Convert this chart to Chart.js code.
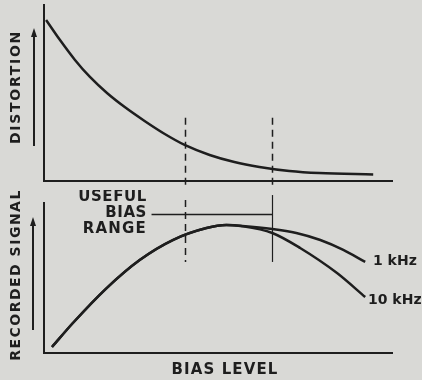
<!DOCTYPE html>
<html>
<head>
<meta charset="utf-8">
<script src="https://cdn.jsdelivr.net/npm/chart.js@4"></script>
<style>
  body { margin: 0; background: #d9d9d6; }
  #wrap { position: relative; width: 422px; height: 380px; }
  canvas { position: absolute; left: 0; }
</style>
</head>
<body>
<div id="wrap">
  <canvas id="distChart" width="422" height="190" style="top:0"></canvas>
  <canvas id="signalChart" width="422" height="190" style="top:190px"></canvas>
</div>
<script>
// bias level runs 0..10 on both panels, output values 0..10
const biasDist = [0.06, 0.46, 0.89, 1.32, 1.81, 2.32, 2.89, 3.47, 4.04, 4.76, 5.47, 6.19, 7.05, 7.91, 9.46];
const distortion = [9.15, 8.01, 6.88, 5.91, 5.0, 4.2, 3.41, 2.67, 2.05, 1.48, 1.08, 0.8, 0.57, 0.45, 0.37];

const bias1k = [0.23, 0.83, 1.8, 2.75, 3.7, 4.67, 5.24, 5.7, 6.56, 7.25, 7.94, 8.6, 9.23];
const signal1k = [0.4, 2.0, 4.33, 6.2, 7.53, 8.33, 8.53, 8.47, 8.27, 8.0, 7.53, 6.87, 6.07];

const bias10k = [0.23, 0.83, 1.8, 2.75, 3.7, 4.67, 5.24, 5.7, 6.56, 7.36, 8.42, 9.23];
const signal10k = [0.4, 2.0, 4.33, 6.2, 7.53, 8.33, 8.53, 8.45, 8.0, 7.0, 5.33, 3.73];

const usefulRange = [4.04, 6.56];

const ink = '#1e1e1e';
const font = 'DejaVu Sans, sans-serif';

const toPoints = (xs, ys) => xs.map((x, i) => ({ x: x, y: ys[i] }));

function axisScales() {
    return {
        x: {
            type: 'linear', min: 0, max: 10,
            ticks: { display: false },
            grid: { display: false, drawTicks: false },
            border: { color: ink, width: 2 },
            afterFit: s => { s.height = 0; }
        },
        y: {
            type: 'linear', min: 0, max: 10,
            ticks: { display: false },
            grid: { display: false, drawTicks: false },
            border: { color: ink, width: 2 },
            afterFit: s => { s.width = 0; }
        }
    };
}

function curve(points) {
    return {
        data: points,
        borderColor: ink,
        borderWidth: 2.5,
        pointRadius: 0,
        cubicInterpolationMode: 'monotone',
        fill: false
    };
}

function vText(ctx, str, x, y, size, spacing) {
    ctx.save();
    ctx.translate(x, y);
    ctx.rotate(-Math.PI / 2);
    ctx.font = 'bold ' + size + 'px ' + font;
    ctx.letterSpacing = spacing + 'px';
    ctx.fillStyle = ink;
    ctx.textAlign = 'center';
    ctx.textBaseline = 'middle';
    ctx.fillText(str, 0, 0);
    ctx.restore();
}

function text(ctx, str, x, y, size, align, spacing) {
    ctx.save();
    ctx.font = 'bold ' + size + 'px ' + font;
    ctx.letterSpacing = (spacing || 0) + 'px';
    ctx.fillStyle = ink;
    ctx.textAlign = align;
    ctx.textBaseline = 'middle';
    ctx.fillText(str, x, y);
    ctx.restore();
}

// vertical arrow pointing up
function upArrow(ctx, x, y1, y2) {
    ctx.save();
    ctx.strokeStyle = ink;
    ctx.fillStyle = ink;
    ctx.lineWidth = 2;
    ctx.beginPath();
    ctx.moveTo(x, y1);
    ctx.lineTo(x, y2 + 6);
    ctx.stroke();
    ctx.beginPath();
    ctx.moveTo(x, y2);
    ctx.lineTo(x - 3, y2 + 9);
    ctx.lineTo(x + 3, y2 + 9);
    ctx.closePath();
    ctx.fill();
    ctx.restore();
}

function line(ctx, x1, y1, x2, y2, width, dash) {
    ctx.save();
    ctx.strokeStyle = ink;
    ctx.lineWidth = width;
    ctx.setLineDash(dash || []);
    ctx.beginPath();
    ctx.moveTo(x1, y1);
    ctx.lineTo(x2, y2);
    ctx.stroke();
    ctx.restore();
}

const distNotes = {
    id: 'distNotes',
    afterDraw(chart) {
        const { ctx, scales: { x, y }, chartArea } = chart;
        usefulRange.forEach(v => {
            const px = Math.round(x.getPixelForValue(v)) + 0.5;
            line(ctx, px, y.getPixelForValue(3.6), px, chartArea.bottom + 8, 1.5, [7, 5]);
        });
        vText(ctx, 'DISTORTION', 16, 87, 14, 1.7);
        upArrow(ctx, 34, 146, 28);
    }
};

const signalNotes = {
    id: 'signalNotes',
    afterDraw(chart) {
        const { ctx, scales: { x, y }, chartArea } = chart;
        const lo = Math.round(x.getPixelForValue(usefulRange[0])) + 0.5;
        const hi = Math.round(x.getPixelForValue(usefulRange[1])) + 0.5;
        line(ctx, lo, y.getPixelForValue(10.2), lo, y.getPixelForValue(6.07), 1.5, [7, 5]);
        line(ctx, hi, y.getPixelForValue(10.53), hi, y.getPixelForValue(6.07), 1.2);
        const yr = Math.round(y.getPixelForValue(9.27)) + 0.5;
        line(ctx, x.getPixelForValue(3.09), yr, hi, yr, 1.5);

        text(ctx, 'USEFUL', 147, 7, 15, 'right', 0.6);
        text(ctx, 'BIAS', 147, 23, 15, 'right', 0.6);
        text(ctx, 'RANGE', 147, 39, 15, 'right', 1.2);

        vText(ctx, 'RECORDED SIGNAL', 16, 85, 14, 1.5);
        upArrow(ctx, 33, 140, 27);

        text(ctx, 'BIAS LEVEL', 225, 180, 15, 'center', 1.1);
        text(ctx, '1 kHz', 373, 71, 14, 'left', 0);
        text(ctx, '10 kHz', 368, 110, 14, 'left', 0);
    }
};

new Chart(document.getElementById('distChart'), {
    type: 'line',
    data: { datasets: [curve(toPoints(biasDist, distortion))] },
    options: {
        responsive: false,
        animation: false,
        layout: { padding: { left: 44, right: 30, top: 5, bottom: 9 } },
        plugins: { legend: { display: false }, tooltip: { enabled: false } },
        scales: axisScales()
    },
    plugins: [distNotes]
});

new Chart(document.getElementById('signalChart'), {
    type: 'line',
    data: {
        datasets: [
            curve(toPoints(bias1k, signal1k)),
            curve(toPoints(bias10k, signal10k))
        ]
    },
    options: {
        responsive: false,
        animation: false,
        layout: { padding: { left: 44, right: 30, top: 13, bottom: 27 } },
        plugins: { legend: { display: false }, tooltip: { enabled: false } },
        scales: axisScales()
    },
    plugins: [signalNotes]
});
</script>
</body>
</html>
